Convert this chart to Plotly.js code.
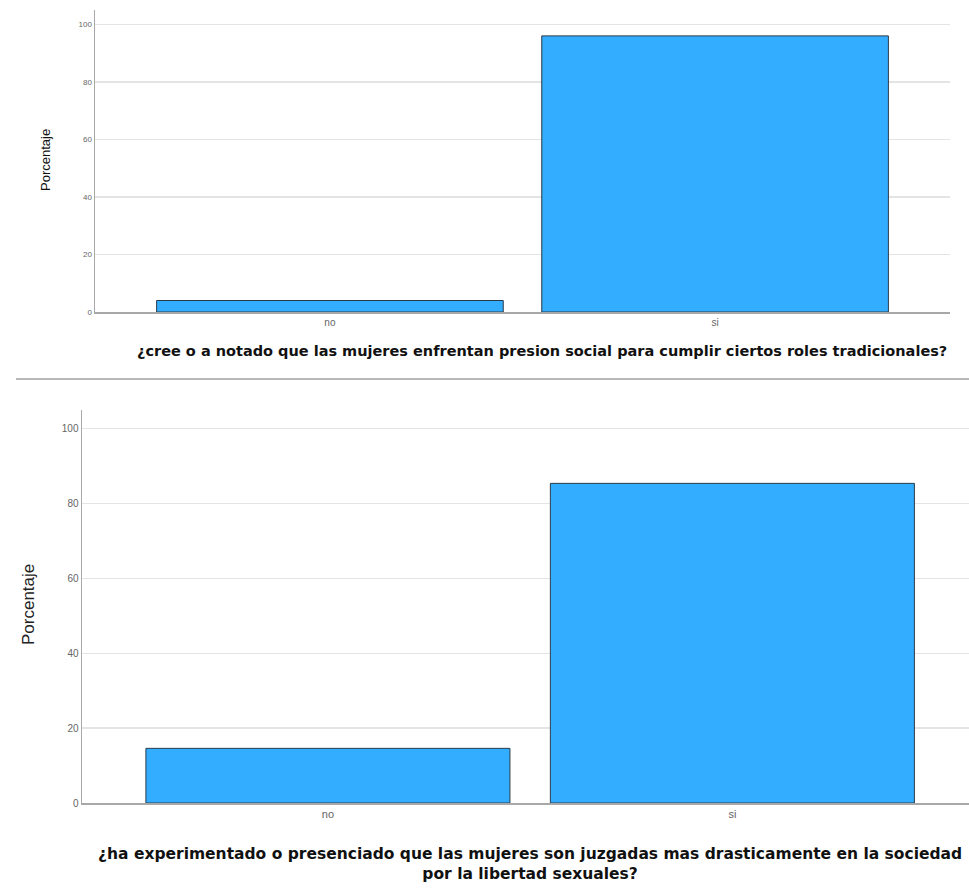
<!DOCTYPE html>
<html>
<head>
<meta charset="utf-8">
<script src="https://cdn.plot.ly/plotly-3.0.1.min.js"></script>
<style>html,body{margin:0;padding:0;background:#fff;}#chart{width:969px;height:890px;}</style>
</head>
<body>
<div id="chart"></div>
<script>
// Data
const categories = ["no", "si"];
const topValues = [4.0, 96.0];
const bottomValues = [14.6, 85.4];
const topTitle = "¿cree o a notado que las mujeres enfrentan presion social para cumplir ciertos roles tradicionales?";
const bottomTitle = "¿ha experimentado o presenciado que las mujeres son juzgadas mas drasticamente en la sociedad<br>por la libertad sexuales?";
const yTitle = "Porcentaje";
const yTicks = [0, 20, 40, 60, 80, 100];

const W = 969, H = 890;
const px = x => x / W;
const py = y => 1 - y / H;

const barColor = "#33adff";
const barLine = {color: "#2b3a48", width: 1};

const traces = [
  {type: "bar", x: categories, y: topValues, xaxis: "x", yaxis: "y", width: 0.9,
   marker: {color: barColor, line: barLine}, hoverinfo: "x+y"},
  {type: "bar", x: categories, y: bottomValues, xaxis: "x2", yaxis: "y2", width: 0.9,
   marker: {color: barColor, line: barLine}, hoverinfo: "x+y"}
];

const gridColor = "#e4e4e4";
const axisColor = "#a8a8a8";

const layout = {
  width: W, height: H,
  margin: {l: 0, r: 0, t: 0, b: 0},
  paper_bgcolor: "#ffffff",
  plot_bgcolor: "#ffffff",
  showlegend: false,
  bargap: 0.1,
  font: {family: "Liberation Sans, Arial, sans-serif", color: "#555"},
  xaxis: {
    domain: [px(95), px(950)], anchor: "y",
    type: "category", range: [-0.61, 1.61],
    showline: true, linecolor: axisColor, linewidth: 1.5,
    showgrid: false, ticks: "", zeroline: false,
    tickfont: {size: 10, color: "#666"}
  },
  yaxis: {
    domain: [py(312), py(10)], anchor: "x",
    range: [0, 105], tickvals: yTicks,
    showline: true, linecolor: axisColor, linewidth: 1.5,
    showgrid: true, gridcolor: gridColor, gridwidth: 1.5,
    zeroline: false, ticks: "",
    tickfont: {size: 8, color: "#666"}
  },
  xaxis2: {
    domain: [px(82), 1], anchor: "y2",
    type: "category", range: [-0.608, 1.585],
    showline: true, linecolor: axisColor, linewidth: 1.5,
    showgrid: false, ticks: "", zeroline: false,
    tickfont: {size: 11, color: "#666"}
  },
  yaxis2: {
    domain: [py(803), py(410)], anchor: "x2",
    range: [0, 105], tickvals: yTicks,
    showline: true, linecolor: axisColor, linewidth: 1.5,
    showgrid: true, gridcolor: gridColor, gridwidth: 1.5,
    zeroline: false, ticks: "",
    tickfont: {size: 10, color: "#666"}
  },
  shapes: [
    {type: "line", xref: "paper", yref: "paper", x0: px(16), x1: 1, y0: py(379), y1: py(379),
     line: {color: "#a0a0a0", width: 1.5}}
  ],
  annotations: [
    {xref: "paper", yref: "paper", x: px(542), y: py(351), xanchor: "center", yanchor: "middle",
     showarrow: false, text: topTitle,
     font: {family: "DejaVu Sans, sans-serif", size: 14.5, color: "#111", weight: "bold"}},
    {xref: "paper", yref: "paper", x: px(530), y: py(863.5), xanchor: "center", yanchor: "middle",
     showarrow: false, text: bottomTitle, align: "center",
     font: {family: "DejaVu Sans, sans-serif", size: 15.5, color: "#111", weight: "bold"}},
    {xref: "paper", yref: "paper", x: px(45), y: py(160), xanchor: "center", yanchor: "middle",
     showarrow: false, text: yTitle, textangle: -90,
     font: {family: "Liberation Sans, Arial, sans-serif", size: 13, color: "#111"}},
    {xref: "paper", yref: "paper", x: px(28), y: py(605), xanchor: "center", yanchor: "middle",
     showarrow: false, text: yTitle, textangle: -90,
     font: {family: "Liberation Sans, Arial, sans-serif", size: 17, color: "#222"}}
  ]
};

Plotly.newPlot("chart", traces, layout, {displayModeBar: false, staticPlot: true});
</script>
</body>
</html>
